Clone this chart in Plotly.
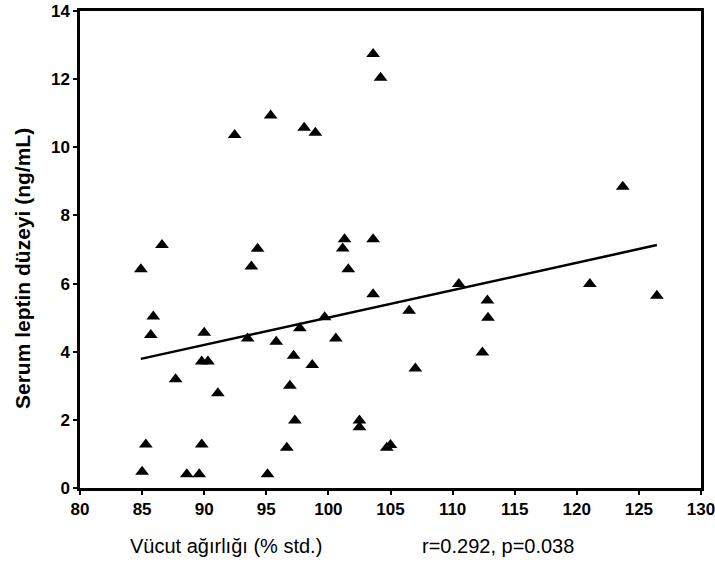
import plotly.graph_objects as go

body_weight = [84.9, 86.6, 85.9, 85.7, 90.0, 89.8, 90.3, 87.7, 91.1, 85.3,
               89.8, 85.0, 88.6, 89.6, 95.1, 96.65, 97.3, 96.9, 97.2, 97.7,
               95.8, 93.5, 93.8, 94.3, 95.35, 98.05, 98.95, 92.45, 98.7, 99.7,
               100.6, 101.15, 101.3, 101.6, 102.5, 102.5, 103.6, 103.6, 103.6, 104.2,
               104.7, 105.0, 106.5, 107.0, 110.5, 112.4, 112.8, 112.85, 121.05, 123.7,
               126.45]
leptin = [6.42, 7.13, 5.03, 4.49, 4.56, 3.71, 3.71, 3.19, 2.78, 1.28,
          1.28, 0.48, 0.40, 0.40, 0.40, 1.18, 1.98, 3.0, 3.88, 4.69,
          4.29, 4.39, 6.5, 7.02, 10.93, 10.57, 10.43, 10.36, 3.61, 5.01,
          4.39, 7.03, 7.3, 6.42, 1.98, 1.78, 7.3, 5.69, 12.74, 12.04,
          1.18, 1.26, 5.2, 3.51, 5.99, 3.98, 5.5, 5.0, 5.99, 8.84,
          5.64]

fit_x = [84.9, 126.45]
fit_y = [3.79, 7.13]

x_ticks = [80, 85, 90, 95, 100, 105, 110, 115, 120, 125, 130]
y_ticks = [0, 2, 4, 6, 8, 10, 12, 14]

FONT = "Liberation Sans, Arial, sans-serif"
PL, PR, PT, PB = 80, 701, 11, 488
PW, PH = PR - PL, PB - PT

fig = go.Figure()
fig.add_trace(go.Scatter(x=fit_x, y=fit_y, mode="lines",
                         line=dict(color="black", width=2.5), showlegend=False))
fig.add_trace(go.Scatter(x=body_weight, y=leptin, mode="markers",
                         marker=dict(symbol="triangle-up", size=12, color="black"),
                         showlegend=False))

tickfont = dict(family=FONT, size=17, color="black")
fig.update_layout(
    width=715, height=566,
    margin=dict(l=PL, r=715 - PR, t=PT, b=566 - PB),
    paper_bgcolor="white", plot_bgcolor="white",
    font=dict(family=FONT, color="black"),
    xaxis=dict(range=[80, 130], tickvals=x_ticks,
               ticktext=["<b>%d</b>" % v for v in x_ticks],
               showline=True, linecolor="black", linewidth=2.5, mirror=True,
               ticks="outside", ticklen=4, tickwidth=2, tickcolor="black",
               showgrid=False, zeroline=False, automargin=False,
               ticklabeloverflow="allow",
               tickfont=tickfont),
    yaxis=dict(range=[0, 14], tickvals=y_ticks,
               ticktext=["<b>%d</b>" % v for v in y_ticks],
               showline=True, linecolor="black", linewidth=2.5, mirror=True,
               ticks="outside", ticklen=4, tickwidth=2, tickcolor="black",
               showgrid=False, zeroline=False, automargin=False,
               ticklabeloverflow="allow",
               tickfont=tickfont),
)
fig.add_annotation(text="<b>Serum leptin düzeyi (ng/mL)</b>", xref="paper", yref="paper",
                   x=(22 - PL) / PW, y=(PB - 269) / PH, showarrow=False, textangle=-90,
                   xanchor="center", yanchor="middle",
                   font=dict(family=FONT, size=21))
fig.add_annotation(text="Vücut ağırlığı (% std.)", xref="paper", yref="paper",
                   x=(226 - PL) / PW, y=-(546 - PB) / PH, showarrow=False,
                   xanchor="center", yanchor="middle",
                   font=dict(family=FONT, size=20))
fig.add_annotation(text="r=0.292, p=0.038", xref="paper", yref="paper",
                   x=(498 - PL) / PW, y=-(546 - PB) / PH, showarrow=False,
                   xanchor="center", yanchor="middle",
                   font=dict(family=FONT, size=20))

fig.write_html("out.html")
